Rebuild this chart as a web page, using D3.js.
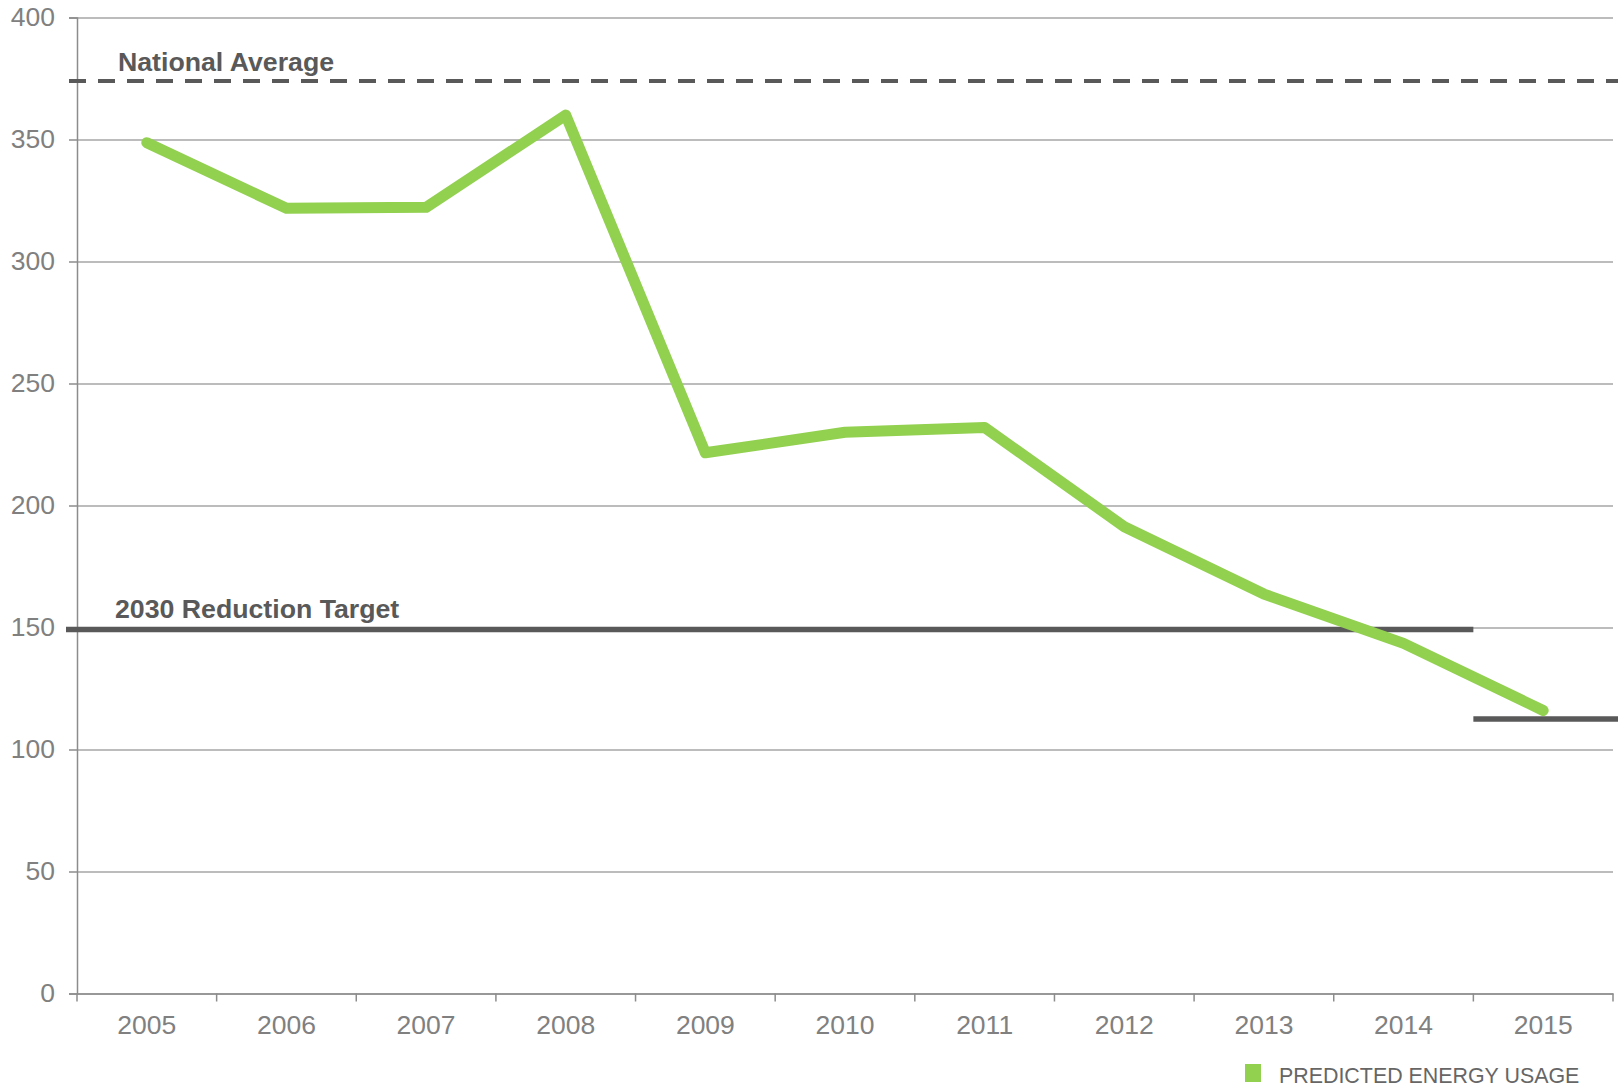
<!DOCTYPE html>
<html>
<head>
<meta charset="utf-8">
<script src="https://cdn.jsdelivr.net/npm/d3@7"></script>
<style>
  body { margin: 0; background: #fff; }
  svg { display: block; font-family: "Liberation Sans", Arial, sans-serif; }
</style>
</head>
<body>
<div id="chart"></div>
<script>
// data
const years = ['2005','2006','2007','2008','2009','2010','2011','2012','2013','2014','2015']
const usage = [348.7, 321.8, 322.2, 360.0, 221.6, 230.0, 232.0, 191.3, 163.7, 143.5, 116]
const yTicks = [0, 50, 100, 150, 200, 250, 300, 350, 400]
const nationalAverage = 374
const reductionTarget = 149.2
const target2015 = 112.5
const legendLabel = 'PREDICTED ENERGY USAGE'

const width = 1618, height = 1091
const margin = {top: 17.5, right: 5, bottom: 97.5, left: 77}
const plotW = width - margin.left - margin.right
const plotH = height - margin.top - margin.bottom

const green = '#92d050'
const dark = '#595959'
const grey = '#8c8c8c'
const font = '"Liberation Sans", Arial, sans-serif'

const svg = d3.select('#chart').append('svg')
  .attr('width', width)
  .attr('height', height)

const g = svg.append('g')
  .attr('transform', `translate(${margin.left},${margin.top})`)

const x = d3.scaleBand().domain(years).range([0, plotW])
const y = d3.scaleLinear().domain([0, 400]).range([plotH, 0])
const cx = d => x(d) + x.bandwidth() / 2

// gridlines
g.append('g')
  .call(d3.axisLeft(y).tickValues(yTicks).tickSize(-plotW).tickFormat(''))
  .call(s => s.select('.domain').remove())
  .call(s => s.selectAll('line').attr('stroke', '#a6a6a6').attr('stroke-width', 1.3))

// y axis
g.append('g')
  .call(d3.axisLeft(y).tickValues(yTicks).tickSize(8).tickPadding(14))
  .call(s => s.select('.domain').attr('stroke', grey).attr('stroke-width', 1.5))
  .call(s => s.selectAll('line').attr('stroke', grey).attr('stroke-width', 1.5))
  .call(s => s.selectAll('text').attr('fill', '#808080').style('font-size', '26.5px')
    .style('font-family', font))

// x axis line + labels
g.append('g')
  .attr('transform', `translate(0,${plotH})`)
  .call(d3.axisBottom(x).tickSize(0).tickPadding(22))
  .call(s => s.select('.domain').attr('stroke', grey).attr('stroke-width', 1.5))
  .call(s => s.selectAll('text').attr('fill', '#808080').style('font-size', '26.5px')
    .style('font-family', font))

// x ticks sit on the category boundaries
const bounds = years.map(d => x(d)).concat([plotW])
g.append('g').selectAll('line')
  .data(bounds)
  .join('line')
  .attr('x1', d => d).attr('x2', d => d)
  .attr('y1', plotH).attr('y2', plotH + 8)
  .attr('stroke', grey).attr('stroke-width', 1.5)

// national average dashed line
g.append('line')
  .attr('x1', -8).attr('x2', plotW + margin.right)
  .attr('y1', y(nationalAverage)).attr('y2', y(nationalAverage))
  .attr('stroke', dark).attr('stroke-width', 4)
  .attr('stroke-dasharray', '17,12')

g.append('text')
  .attr('x', 41).attr('y', y(nationalAverage) - 10)
  .attr('fill', dark)
  .style('font-size', '26.7px').style('font-weight', 'bold')
  .text('National Average')

// reduction target
g.append('line')
  .attr('x1', -11).attr('x2', x('2015'))
  .attr('y1', y(reductionTarget)).attr('y2', y(reductionTarget))
  .attr('stroke', dark).attr('stroke-width', 5.5)

g.append('line')
  .attr('x1', x('2015')).attr('x2', plotW + margin.right)
  .attr('y1', y(target2015)).attr('y2', y(target2015))
  .attr('stroke', dark).attr('stroke-width', 5.5)

g.append('text')
  .attr('x', 38).attr('y', y(reductionTarget) - 11)
  .attr('fill', dark)
  .style('font-size', '26.7px').style('font-weight', 'bold')
  .text('2030 Reduction Target')

// predicted usage line
const line = d3.line()
  .x((d, i) => cx(years[i]))
  .y(d => y(d))

g.append('path')
  .datum(usage)
  .attr('d', line)
  .attr('fill', 'none')
  .attr('stroke', green)
  .attr('stroke-width', 11)
  .attr('stroke-linecap', 'round')
  .attr('stroke-linejoin', 'round')

// legend
const legend = svg.append('g').attr('transform', 'translate(1245,1064)')
legend.append('rect')
  .attr('width', 16).attr('height', 18)
  .attr('fill', green)
legend.append('text')
  .attr('x', 34).attr('y', 19)
  .attr('fill', '#666')
  .style('font-size', '21.4px')
  .text(legendLabel)
</script>
</body>
</html>
